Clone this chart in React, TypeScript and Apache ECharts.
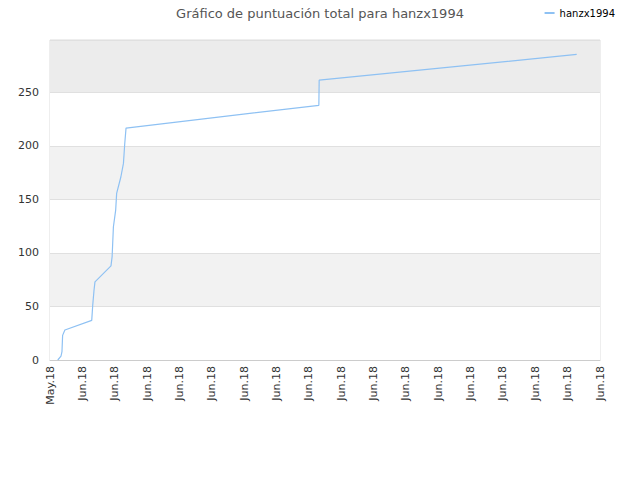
import React, { useEffect, useRef } from "react";
import * as echarts from "echarts";

const TITLE = "Gráfico de puntuación total para hanzx1994";
const SERIES_NAME = "hanzx1994";

// tick labels along the x axis, one per unit
const xLabels = [
  "May.18", "Jun.18", "Jun.18", "Jun.18", "Jun.18", "Jun.18",
  "Jun.18", "Jun.18", "Jun.18", "Jun.18", "Jun.18", "Jun.18",
  "Jun.18", "Jun.18", "Jun.18", "Jun.18", "Jun.18", "Jun.18",
];

// score curve (x in tick units, y = total score)
const xValues = [
  0.24, 0.34, 0.37, 0.39, 0.46, 1.29, 1.32, 1.36, 1.39, 1.885,
  1.92, 1.96, 2.03, 2.06, 2.19, 2.27, 2.31, 2.35, 8.31, 8.32, 16.28,
];
const scores = [
  0, 3.7, 7.8, 23, 28, 37, 51, 65, 73, 88,
  96.5, 124.5, 140, 155.7, 171, 183.7, 202, 216.7, 238, 261.5, 285.5,
];

const yTicks = [0, 50, 100, 150, 200, 250];

const App: React.FC = () => {
  const chartRef = useRef<HTMLDivElement>(null);

  useEffect(() => {
    if (!chartRef.current) return;
    const chart = echarts.init(chartRef.current, null, { renderer: "svg" });
    const font = "DejaVu Sans";

    chart.setOption({
      animation: false,
      textStyle: { fontFamily: font },
      title: {
        text: TITLE,
        left: "center",
        top: 2,
        textStyle: { fontFamily: font, fontSize: 13, fontWeight: "normal", color: "#555555" },
      },
      legend: {
        right: 20,
        top: 3,
        icon: "rect",
        itemWidth: 10,
        itemHeight: 2,
        itemGap: 6,
        textStyle: { fontFamily: font, fontSize: 10, color: "#000000" },
        data: [SERIES_NAME],
      },
      grid: {
        left: 50,
        right: 40,
        top: 40,
        bottom: 120,
        show: true,
        borderColor: "#dddddd",
        borderWidth: 1,
      },
      xAxis: {
        type: "value",
        min: 0,
        max: xLabels.length - 1,
        interval: 1,
        axisLine: { show: true, lineStyle: { color: "#cccccc" } },
        axisTick: { show: false },
        splitLine: { show: false },
        axisLabel: {
          rotate: 90,
          fontSize: 11,
          color: "#333333",
          margin: 6,
          showMinLabel: true,
          showMaxLabel: true,
          formatter: (v: number) => xLabels[Math.round(v)] ?? "",
        },
      },
      yAxis: {
        type: "value",
        min: yTicks[0],
        max: 299,
        interval: 50,
        axisLine: { show: false },
        axisTick: { show: false },
        axisLabel: {
          fontSize: 11,
          color: "#333333",
          margin: 11,
          showMaxLabel: false,
          formatter: (v: number) => (yTicks.includes(v) ? String(v) : ""),
        },
        splitLine: { show: true, lineStyle: { color: "#e0e0e0" } },
        splitArea: {
          show: true,
          areaStyle: {
            color: ["#ffffff", "#f2f2f2", "#ffffff", "#f2f2f2", "#ffffff", "#ececec"],
          },
        },
      },
      series: [
        {
          name: SERIES_NAME,
          type: "line",
          symbol: "none",
          lineStyle: { color: "#8ec1f3", width: 1.2 },
          itemStyle: { color: "#8ec1f3" },
          data: xValues.map((x, i) => [x, scores[i]]),
        },
      ],
    });

    return () => {
      chart.dispose();
    };
  }, []);

  // cancel the body's 8px margin so the chart fills the 640x480 window
  return <div ref={chartRef} style={{ width: 640, height: 480, margin: -8 }} />;
};

export default App;
